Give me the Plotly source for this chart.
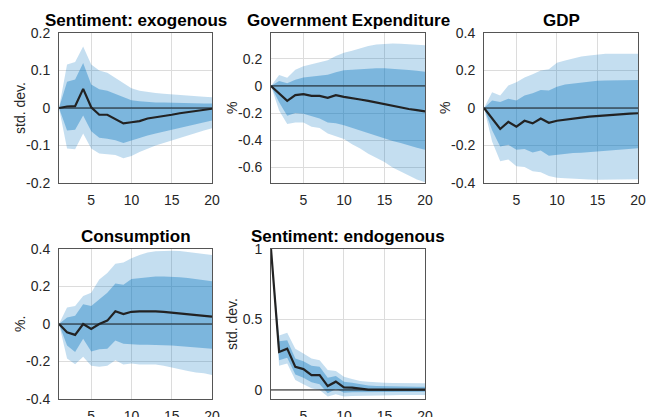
import plotly.graph_objects as go

# Impulse-response horizon
periods = list(range(1, 21))

# ---- Sentiment: exogenous (std. dev.) ----
sx_median = [0, 0.004, 0.005, 0.051, 0.002, -0.018, -0.018, -0.029, -0.041, -0.038,
             -0.035, -0.028, -0.025, -0.021, -0.018, -0.014, -0.011, -0.007, -0.004, -0.002]
sx_in_lo = [0, -0.060, -0.058, -0.020, -0.062, -0.079, -0.082, -0.086, -0.093, -0.086,
            -0.079, -0.073, -0.068, -0.063, -0.058, -0.053, -0.048, -0.043, -0.038, -0.033]
sx_in_hi = [0, 0.070, 0.076, 0.120, 0.063, 0.050, 0.046, 0.037, 0.028, 0.021,
            0.018, 0.016, 0.015, 0.015, 0.014, 0.014, 0.013, 0.013, 0.012, 0.012]
sx_out_lo = [0, -0.108, -0.110, -0.068, -0.108, -0.121, -0.123, -0.125, -0.134, -0.128,
             -0.117, -0.108, -0.100, -0.093, -0.086, -0.079, -0.072, -0.066, -0.060, -0.054]
sx_out_hi = [0, 0.116, 0.123, 0.164, 0.116, 0.100, 0.094, 0.081, 0.068, 0.053,
             0.046, 0.042, 0.040, 0.038, 0.036, 0.034, 0.032, 0.031, 0.030, 0.029]

# ---- Government Expenditure (%) ----
g_median = [0, -0.055, -0.110, -0.068, -0.060, -0.073, -0.073, -0.088, -0.068, -0.080,
            -0.088, -0.100, -0.110, -0.122, -0.135, -0.148, -0.160, -0.170, -0.178, -0.188]
g_in_lo = [0, -0.12, -0.22, -0.20, -0.205, -0.22, -0.24, -0.27, -0.275, -0.29,
           -0.31, -0.33, -0.35, -0.37, -0.385, -0.405, -0.42, -0.44, -0.455, -0.47]
g_in_hi = [0, 0.037, 0.020, 0.045, 0.062, 0.070, 0.075, 0.083, 0.100, 0.115,
           0.120, 0.125, 0.128, 0.130, 0.130, 0.127, 0.123, 0.118, 0.112, 0.105]
g_out_lo = [0, -0.18, -0.28, -0.27, -0.27, -0.30, -0.31, -0.35, -0.37, -0.39,
            -0.43, -0.46, -0.50, -0.53, -0.56, -0.60, -0.63, -0.66, -0.69, -0.71]
g_out_hi = [0, 0.080, 0.060, 0.120, 0.145, 0.160, 0.175, 0.190, 0.220, 0.245,
            0.260, 0.280, 0.295, 0.305, 0.310, 0.312, 0.310, 0.308, 0.305, 0.300]

# ---- GDP (%) ----
y_median = [0, -0.056, -0.112, -0.074, -0.100, -0.068, -0.082, -0.056, -0.079, -0.068,
            -0.061, -0.056, -0.051, -0.046, -0.042, -0.039, -0.035, -0.032, -0.030, -0.028]
y_in_lo = [0, -0.118, -0.205, -0.196, -0.223, -0.219, -0.237, -0.226, -0.254, -0.249,
           -0.244, -0.240, -0.238, -0.235, -0.232, -0.229, -0.225, -0.221, -0.218, -0.214]
y_in_hi = [0, 0.040, 0.032, 0.050, 0.040, 0.067, 0.079, 0.096, 0.093, 0.114,
           0.125, 0.130, 0.137, 0.140, 0.145, 0.147, 0.148, 0.149, 0.150, 0.150]
y_out_lo = [0, -0.179, -0.284, -0.275, -0.310, -0.314, -0.337, -0.342, -0.363, -0.372,
            -0.375, -0.378, -0.380, -0.381, -0.382, -0.382, -0.382, -0.382, -0.381, -0.380]
y_out_hi = [0, 0.084, 0.067, 0.120, 0.137, 0.163, 0.180, 0.200, 0.207, 0.242,
            0.254, 0.265, 0.274, 0.280, 0.286, 0.289, 0.290, 0.290, 0.290, 0.289]

# ---- Consumption (%.) ----
c_median = [0, -0.044, -0.058, 0.000, -0.026, 0.000, 0.018, 0.068, 0.053, 0.065,
            0.067, 0.068, 0.067, 0.065, 0.061, 0.058, 0.054, 0.049, 0.044, 0.039]
c_in_lo = [0, -0.114, -0.149, -0.079, -0.146, -0.135, -0.132, -0.088, -0.105, -0.109,
           -0.110, -0.110, -0.110, -0.113, -0.115, -0.118, -0.121, -0.124, -0.128, -0.132]
c_in_hi = [0, 0.035, 0.044, 0.105, 0.096, 0.132, 0.167, 0.216, 0.210, 0.240,
           0.246, 0.250, 0.254, 0.254, 0.253, 0.250, 0.246, 0.241, 0.235, 0.228]
c_out_lo = [0, -0.184, -0.214, -0.175, -0.223, -0.228, -0.223, -0.193, -0.216, -0.210,
            -0.216, -0.216, -0.216, -0.223, -0.233, -0.240, -0.251, -0.258, -0.263, -0.272]
c_out_hi = [0, 0.088, 0.096, 0.149, 0.167, 0.237, 0.272, 0.321, 0.328, 0.351,
            0.368, 0.381, 0.388, 0.391, 0.391, 0.390, 0.386, 0.380, 0.374, 0.368]

# ---- Sentiment: endogenous (std. dev.) ----
sn_median = [1.0, 0.270, 0.293, 0.164, 0.148, 0.106, 0.106, 0.028, 0.059, 0.019,
             0.016, 0.007, 0.003, 0.002, 0.002, 0.002, 0.002, 0.002, 0.002, 0.002]
sn_in_lo = [1.0, 0.211, 0.228, 0.110, 0.087, 0.054, 0.040, -0.023, 0.007, -0.019,
            -0.016, -0.016, -0.015, -0.015, -0.014, -0.014, -0.013, -0.013, -0.012, -0.012]
sn_in_hi = [1.0, 0.345, 0.352, 0.223, 0.204, 0.171, 0.164, 0.087, 0.100, 0.059,
            0.052, 0.040, 0.032, 0.029, 0.027, 0.026, 0.025, 0.024, 0.023, 0.023]
sn_out_lo = [1.0, 0.171, 0.188, 0.070, 0.040, 0.012, 0.000, -0.047, -0.030, -0.047,
             -0.042, -0.040, -0.039, -0.038, -0.037, -0.037, -0.036, -0.036, -0.035, -0.035]
sn_out_hi = [1.0, 0.387, 0.406, 0.293, 0.258, 0.223, 0.211, 0.141, 0.134, 0.094,
             0.077, 0.063, 0.059, 0.054, 0.052, 0.050, 0.049, 0.048, 0.047, 0.047]

# Panel titles, y-axis labels and tick marks
titles = ["Sentiment: exogenous", "Government Expenditure", "GDP",
          "Consumption", "Sentiment: endogenous"]
units = ["std. dev.", "%", "%", "%.", "std. dev."]
x_ticks = [5, 10, 15, 20]
y_tickvals = [
    [-0.2, -0.1, 0, 0.1, 0.2],
    [-0.6, -0.4, -0.2, 0, 0.2],
    [-0.4, -0.2, 0, 0.2, 0.4],
    [-0.4, -0.2, 0, 0.2, 0.4],
    [0, 0.5, 1],
]
y_ticktext = [
    ["-0.2", "-0.1", "0", "0.1", "0.2"],
    ["-0.6", "-0.4", "-0.2", "0", "0.2"],
    ["-0.4", "-0.2", "0", "0.2", "0.4"],
    ["-0.4", "-0.2", "0", "0.2", "0.4"],
    ["0", "0.5", "1"],
]
y_ranges = [[-0.2, 0.2], [-0.715, 0.39], [-0.4, 0.4], [-0.4, 0.4], [-0.064, 1.0]]

panels = [
    (sx_median, sx_in_lo, sx_in_hi, sx_out_lo, sx_out_hi),
    (g_median, g_in_lo, g_in_hi, g_out_lo, g_out_hi),
    (y_median, y_in_lo, y_in_hi, y_out_lo, y_out_hi),
    (c_median, c_in_lo, c_in_hi, c_out_lo, c_out_hi),
    (sn_median, sn_in_lo, sn_in_hi, sn_out_lo, sn_out_hi),
]

# Figure geometry (pixels) for each axes box: left, right, top, bottom
W, H = 646, 417
boxes = [(59, 212, 33, 183), (271, 425, 33, 183), (484, 638, 33, 183),
         (59, 212, 249, 399), (271, 425, 249, 399)]

FONT = "Arial, Liberation Sans, Helvetica, sans-serif"
TXT = "#262626"
OUTER = "rgba(0,114,189,0.23)"
INNER = "rgba(0,114,189,0.37)"

fig = go.Figure()
annotations = []
layout_axes = {}

for i, (med, in_lo, in_hi, out_lo, out_hi) in enumerate(panels):
    n = i + 1
    xa = "x" if n == 1 else f"x{n}"
    ya = "y" if n == 1 else f"y{n}"
    common = dict(xaxis=xa, yaxis=ya, x=periods, showlegend=False, hoverinfo="skip")

    fig.add_trace(go.Scatter(y=out_lo, mode="lines", line=dict(width=0), **common))
    fig.add_trace(go.Scatter(y=out_hi, mode="lines", line=dict(width=0),
                             fill="tonexty", fillcolor=OUTER, **common))
    fig.add_trace(go.Scatter(y=in_lo, mode="lines", line=dict(width=0), **common))
    fig.add_trace(go.Scatter(y=in_hi, mode="lines", line=dict(width=0),
                             fill="tonexty", fillcolor=INNER, **common))
    fig.add_trace(go.Scatter(y=[0] * len(periods), mode="lines",
                             line=dict(color="#1a1a1a", width=1), **common))
    fig.add_trace(go.Scatter(y=med, mode="lines",
                             line=dict(color="#222222", width=2.2), **common))

    l, r, t, b = boxes[i]
    xdom = [l / W, r / W]
    ydom = [1 - b / H, 1 - t / H]
    axis_style = dict(showline=True, mirror=True, linecolor="#555555", linewidth=1,
                      showgrid=True, gridcolor="#dcdcdc", gridwidth=1, zeroline=False,
                      ticks="", tickfont=dict(family=FONT, size=14, color=TXT),
                      automargin=False, fixedrange=True)
    layout_axes["xaxis" if n == 1 else f"xaxis{n}"] = dict(
        domain=xdom, anchor=ya, range=[1, 20], tickmode="array",
        tickvals=x_ticks, ticktext=[str(v) for v in x_ticks],
        ticklabelstandoff=4, **axis_style)
    layout_axes["yaxis" if n == 1 else f"yaxis{n}"] = dict(
        domain=ydom, anchor=xa, range=y_ranges[i], tickmode="array",
        tickvals=y_tickvals[i], ticktext=y_ticktext[i],
        ticklabelstandoff=5, **axis_style)

    annotations.append(dict(
        text=f"<b>{titles[i]}</b>", xref="paper", yref="paper",
        x=(l + r) / 2 / W, y=1 - (t - 13) / H, xanchor="center", yanchor="middle",
        showarrow=False, font=dict(family=FONT, size=17, color="#000000")))
    annotations.append(dict(
        text=units[i], xref="paper", yref="paper",
        x=(l - 39) / W, y=1 - (t + b) / 2 / H, xanchor="center", yanchor="middle",
        textangle=-90, showarrow=False, font=dict(family=FONT, size=14, color=TXT)))

fig.update_layout(
    width=W, height=H,
    margin=dict(l=0, r=0, t=0, b=0),
    paper_bgcolor="white", plot_bgcolor="white",
    annotations=annotations,
    **layout_axes,
)

fig.write_html("out.html", config={"displayModeBar": False})
